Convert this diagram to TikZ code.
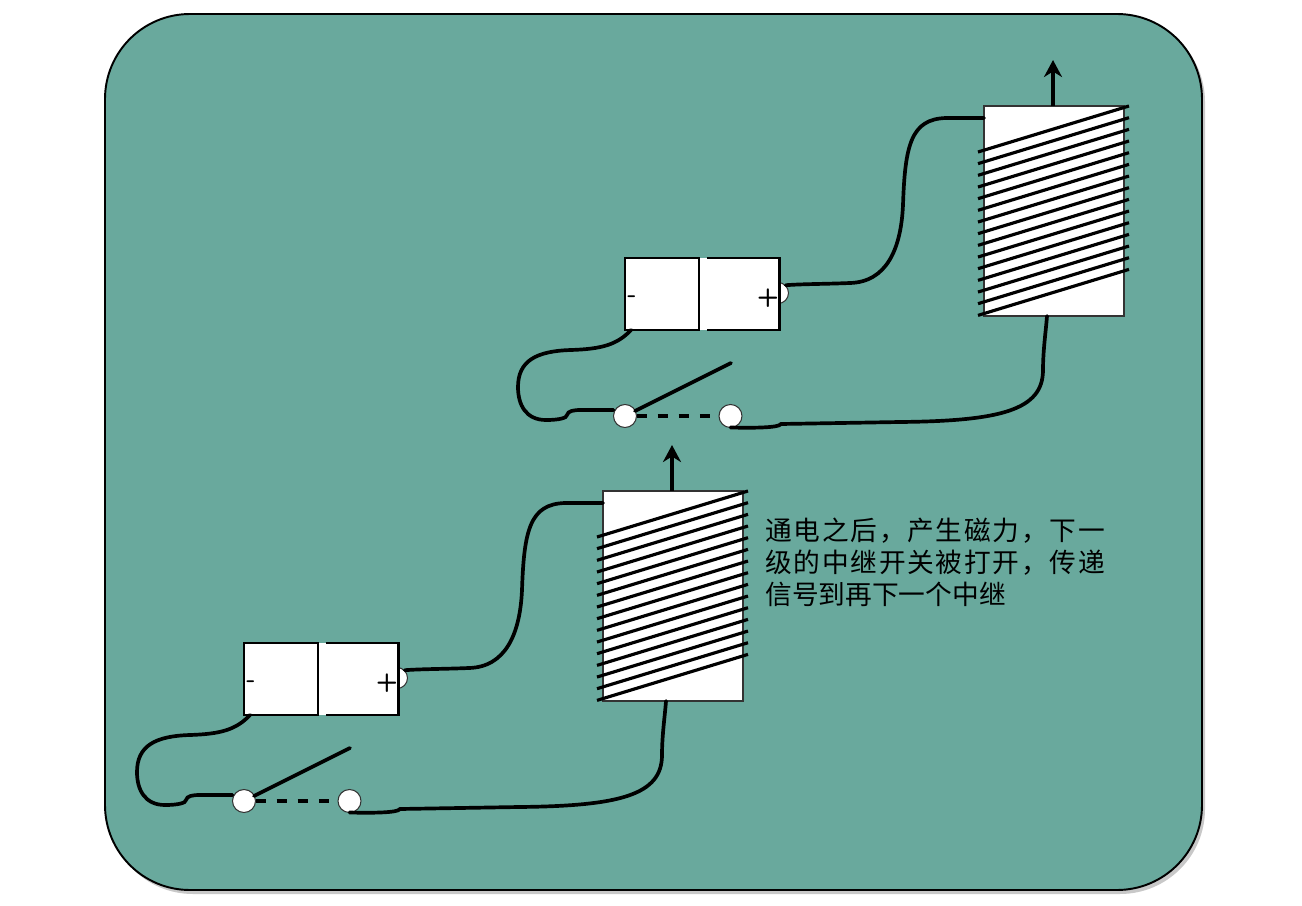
\documentclass[tikz,border=0pt]{standalone}
\usepackage{fontspec}
\newfontfamily\cjk{Noto Sans CJK SC}
\usetikzlibrary{arrows.meta, calc}
\definecolor{CPanel}{HTML}{69A99D}
\definecolor{CShadow}{HTML}{C8C8C8}
\definecolor{CEdge}{HTML}{333333}

\begin{document}
\begin{tikzpicture}[
    x=0.02cm, y=-0.02cm,
    % Reusable styles for consistent strokes/fills
    panel/.style={fill=CPanel, draw=black, line width=1.1pt, rounded corners=1.7cm},
    cell left/.style={draw=black, fill=white, line width=1.3pt, minimum width=1.48cm, minimum height=1.44cm, inner sep=0pt, outer sep=0pt},
    cell right/.style={fill=white, minimum width=1.6cm, minimum height=1.44cm, inner sep=0pt, outer sep=0pt},
    cell edge/.style={draw=black, line width=1.3pt},
    nub/.style={circle, fill=white, draw=CEdge, line width=0.6pt, minimum size=0.42cm, inner sep=0pt},
    coil box/.style={fill=white, draw=CEdge, line width=0.6pt, minimum width=2.8cm, minimum height=4.2cm, inner sep=0pt, outer sep=0pt},
    winding/.style={draw=black, line width=1.8pt},
    wire/.style={draw=black, line width=2.1pt, line cap=round},
    contact/.style={circle, fill=white, draw=CEdge, line width=0.6pt, minimum size=0.46cm, inner sep=0pt, outer sep=0pt},
    sign/.style={text=black, inner sep=0pt},
    push/.style={draw=black, line width=2.1pt, -{Stealth[length=0.34cm, width=0.36cm]}}
]
    \useasboundingbox (0, 0) rectangle (1302, 906);

    % Rounded background panel with its soft shadow
    \fill[CShadow, rounded corners=1.7cm] (108, 17) rectangle (1205, 894);
    \path[panel] (105, 14) rectangle (1202, 890);

    % Two identical relay stages, the second one moved up and right
    \foreach \name/\dx/\dy in {A/0/0, B/381/-385} {
        \begin{scope}[shift={(\dx, \dy)}]
            % Battery: nub first so the cell covers its left half
            \node[nub] (nub\name) at (397, 678) {};
            \node[cell right] (cellR\name) at (358.5, 679) {};
            \draw[cell edge] ($(cellR\name.north west)+(7, 0)$) -- (cellR\name.north east)
                -- (cellR\name.south east) -- ($(cellR\name.south west)+(7, 0)$);
            \node[cell left] (cellL\name) at (281, 679) {};
            \node[sign, font=\sffamily\bfseries\Large] (minus\name) at (251, 684) {-};
            \node[sign, font=\sffamily\bfseries\Large] (plus\name) at (387, 683) {+};

            % Coil body + slanted windings
            \node[coil box] (coil\name) at (673, 596) {};
            \foreach \i in {0, ..., 14}
                \draw[winding] (597, {537 + 11.67*\i}) -- (748, {491 + 11.67*\i});

            % Output arrow on top of the coil
            \draw[push] (coil\name.north) ++(-1, 0) -- ++(0, -46);

            % Switch: two contacts, open lever, dashed closed position
            \node[contact] (swL\name) at (244, 801) {};
            \node[contact] (swR\name) at (349.5, 801) {};
            \draw[wire] (swL\name) ++(10, -5) -- (350, 748);
            \draw[wire, dash pattern=on 5.7pt off 6.3pt, line cap=butt] (swL\name.east) -- (swR\name.west);

            % Wires: battery minus round to the left contact
            \draw[wire] (cellL\name.south west) ++(6, 0)
                .. controls (236, 730) and (220, 734) .. (190, 735)
                .. controls (155, 736) and (137, 746) .. (137, 772)
                .. controls (137, 790) and (145, 805) .. (165, 805)
                .. controls (178, 805) and (186, 803) .. (186, 800)
                .. controls (187, 796) and (192, 795) .. (200, 795)
                -- (swL\name.west |- 0, 795);
            % right contact to the bottom of the coil
            \draw[wire] (swR\name.south)
                .. controls (370, 813) and (398, 813) .. (400, 809)
                -- (519, 807)
                .. controls (620, 806) and (662, 795) .. (662, 755)
                .. controls (662, 735) and (665, 715) .. (666, 701);
            % battery plus to the side of the coil
            \draw[wire] (nub\name.north east)
                .. controls (420, 669) and (445, 669) .. (469, 668)
                .. controls (505, 667) and (520, 635) .. (522, 590)
                .. controls (524, 530) and (530, 504) .. (565, 503)
                -- (coil\name.west |- 0, 503);
        \end{scope}
    }

    % Caption next to the lower coil
    \node[font=\cjk\fontsize{15.2}{18.2}\selectfont, anchor=north west, align=left, inner sep=0pt, text=black] (caption) at (765, 518)
        {\addfontfeature{LetterSpace=6.5}通电之后，产生磁力，下一\\\addfontfeature{LetterSpace=6.5}级的中继开关被打开，传递\\信号到再下一个中继};

\end{tikzpicture}
\end{document}
